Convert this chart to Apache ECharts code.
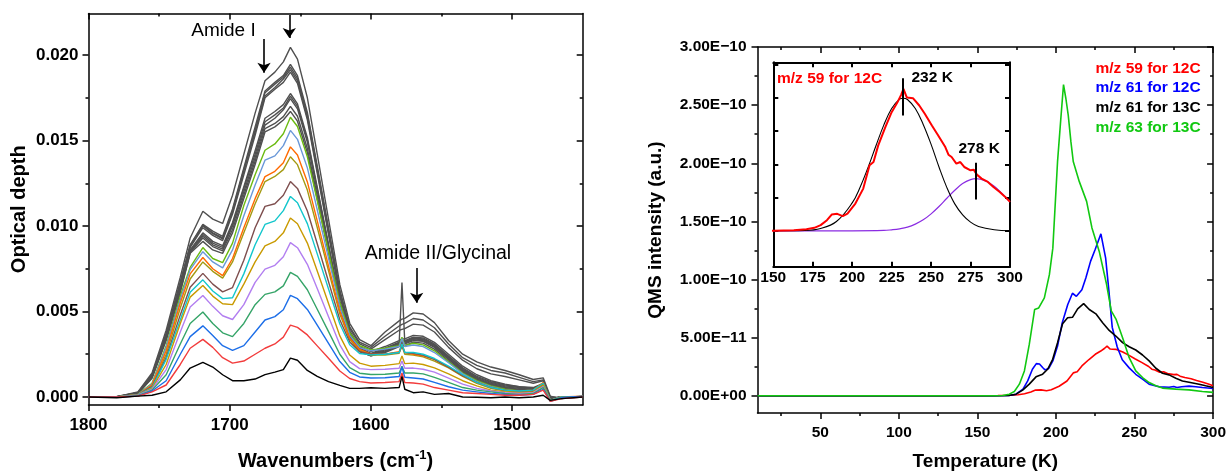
<!DOCTYPE html>
<html>
<head>
<meta charset="utf-8">
<script src="https://cdn.jsdelivr.net/npm/echarts@6/dist/echarts.min.js"></script>
<style>
  html, body { margin: 0; padding: 0; background: #ffffff; }
  #chart { width: 1229px; height: 476px; }
</style>
</head>
<body>
<div id="chart"></div>
<script>
// ---------- FTIR spectra (left panel): optical depth in units of 1e-3 ----------
const wavenumbers = [1800,1780,1765,1755,1745,1735,1728,1719,1712,1705,1698,1690,1682,1675,1668,1662,1657,1652,1645,1638,1630,1622,1615,1608,1600,1590,1580,1578,1576,1570,1563,1555,1545,1535,1525,1515,1505,1495,1485,1478,1473,1465,1450];

const odBlack  = [0,-0.05,0.05,0.1,0.3,1.0,1.69,2.02,1.75,1.3,0.95,0.95,1.05,1.31,1.45,1.6,2.27, 2.15,1.55,1.2,0.9,0.68,0.5,0.5, 0.54,0.5,0.55,1.2,0.45,0.25,0.3,0.15,0.2,0.0,-0.02,-0.05,0.0,-0.05,0.0,0.1,-0.2,-0.1,0.0];
const odRed    = [0,0,0.05,0.3,0.7,1.9,2.85,3.37,2.9,2.3,1.98,2.1,2.5,2.85,3.1,3.5,4.2, 4.07,3.63,2.99,2.26,1.52,1.08,0.9, 0.82,0.85,0.9,1.4,0.85,0.82,0.75,0.55,0.4,0.25,0.2,0.15,0.1,0.1,0.15,0.4,-0.25,-0.1,0.0];
const odBlue   = [0,0,0.05,0.35,0.95,2.5,3.53,4.16,3.6,3.0,2.72,3.0,3.8,4.5,4.7,5.1,5.94, 5.75,5.12,4.2,3.13,2.07,1.44,1.17, 1.11,1.12,1.2,1.75,1.15,1.11,1.05,0.85,0.6,0.4,0.3,0.2,0.15,0.1,0.15,0.45,-0.25,-0.05,0.05];
const odGreen  = [0,0,0.08,0.4,1.3,3.1,4.3,4.97,4.3,3.75,3.53,4.3,5.4,6.0,6.15,6.5,7.29, 7.05,6.27,5.13,3.82,2.5,1.72,1.39, 1.31,1.33,1.4,1.8,1.4,1.4,1.35,1.15,0.85,0.55,0.4,0.3,0.2,0.15,0.2,0.55,-0.2,0.0,0.0];
const odPurple = [0,0,0.1,0.45,1.6,3.8,5.26,5.94,5.3,4.75,4.53,5.4,6.7,7.48,7.7,8.2,9.03, 8.73,7.76,6.34,4.69,3.05,2.07,1.66, 1.6,1.62,1.68,2.1,1.68,1.69,1.62,1.45,1.1,0.75,0.5,0.35,0.25,0.2,0.25,0.6,-0.2,0.0,0.0];
const odGold   = [0,0,0.1,0.5,1.9,4.3,5.84,6.52,5.9,5.45,5.4,6.6,7.9,8.84,9.1,9.6,10.47, 10.13,9.0,7.37,5.47,3.57,2.45,1.98, 1.8,1.85,1.95,2.4,1.95,1.98,1.9,1.7,1.35,0.95,0.65,0.4,0.3,0.25,0.3,0.7,-0.2,0.0,0.0];
const odCyan   = [0,0,0.12,0.55,2.2,4.5,6.13,6.85,6.2,5.75,5.8,7.2,8.9,10.09,10.3,10.9,11.73, 11.36,10.14,8.37,6.32,4.27,3.05,2.54, 2.46,2.5,2.6,3.1,2.6,2.6,2.5,2.25,1.8,1.3,0.85,0.55,0.4,0.35,0.4,0.8,-0.2,0.0,0.0];
const odBrown  = [0,0,0.12,0.6,2.3,4.8,6.42,7.23,6.6,6.15,6.4,8.0,9.9,11.15,11.3,11.8,12.6, 12.2,10.88,8.96,6.74,4.52,3.21,2.65, 2.5,2.5,2.6,3.0,2.6,2.55,2.45,2.2,1.75,1.25,0.85,0.55,0.4,0.35,0.35,0.75,-0.2,0.0,0.0];
const odOlive  = [0,0,0.13,0.65,2.5,5.2,6.9,7.9,7.35,6.95,7.9,9.6,11.3,12.6,12.9,13.3,14.05, 13.59,12.1,9.91,7.38,4.85,3.36,2.72, 2.45,2.45,2.55,3.0,2.5,2.45,2.35,2.1,1.7,1.2,0.8,0.5,0.35,0.3,0.35,0.8,-0.25,0.0,0.0];
const odOrange = [0,0,0.13,0.7,2.7,5.5,7.2,8.16,7.5,7.1,8.1,9.9,11.6,12.89,13.2,13.7,14.63, 14.15,12.58,10.3,7.65,5.01,3.44,2.78, 2.5,2.5,2.65,3.1,2.6,2.5,2.4,2.2,1.75,1.25,0.85,0.55,0.4,0.35,0.4,0.85,-0.2,0.0,0.05];
const odSky    = [0,0,0.14,0.75,2.9,5.7,7.45,8.5,7.9,7.55,8.6,10.6,12.4,13.85,14.1,14.7,15.59, 15.07,13.4,10.95,8.11,5.28,3.6,2.89, 2.7,2.8,2.95,3.4,2.95,3.04,2.95,2.6,2.0,1.35,0.9,0.6,0.4,0.35,0.35,0.75,-0.2,0.0,0.0];
const odLime   = [0,0,0.15,0.8,3.0,5.9,7.58,8.74,8.1,7.86,9.0,11.2,13.0,14.43,14.8,15.4,16.36, 15.82,14.05,11.48,8.5,5.51,3.75,3.0, 2.75,2.85,3.0,3.5,3.0,3.14,3.05,2.7,2.05,1.4,0.95,0.65,0.45,0.35,0.35,0.75,-0.2,-0.05,0.05];

const odGray01 = [0,0,0.2,1.1,3.3,6.1,8.4,9.1,8.6,8.4,9.6,11.6,13.6,15.5,15.8,16.2,16.7, 16.13,14.28,11.57,8.44,5.3,3.45,2.66, 2.4,2.6,2.95,3.0,3.0,3.2,3.15,2.8,2.1,1.45,0.95,0.65,0.45,0.4,0.4,0.65,-0.15,0.0,0.0];
const odGray02 = [0,0,0.2,1.15,3.4,6.2,8.45,9.3,8.8,8.55,9.8,11.8,13.8,15.7,16.0,16.4,17.0, 16.42,14.53,11.76,8.56,5.36,3.47,2.67, 2.4,2.65,3.0,3.1,3.1,3.3,3.25,2.9,2.2,1.5,1.0,0.7,0.5,0.4,0.4,0.65,-0.15,0.0,0.0];
const odGray03 = [0,0,0.2,1.15,3.4,6.3,8.5,9.4,8.9,8.65,10.0,12.0,14.0,15.9,16.3,16.8,17.45, 16.85,14.91,12.07,8.78,5.49,3.55,2.72, 2.45,2.7,3.05,3.15,3.15,3.35,3.3,2.95,2.25,1.55,1.05,0.75,0.55,0.45,0.45,0.7,-0.1,0.0,0.0];
const odGray04 = [0,0.02,0.22,1.2,3.5,6.4,8.55,9.5,9.0,8.75,10.1,12.2,14.2,16.1,16.5,16.9,17.6, 17.0,15.03,12.16,8.84,5.52,3.56,2.73, 2.45,2.75,3.1,6.7,3.2,3.4,3.35,3.0,2.3,1.6,1.1,0.8,0.6,0.5,0.45,0.7,-0.1,0.0,0.0];
const odGray05 = [0,0,0.22,1.2,3.5,6.4,8.6,9.6,9.1,8.85,10.2,12.3,14.4,16.3,16.7,17.1,17.75, 17.14,15.17,12.28,8.93,5.59,3.61,2.78, 2.5,2.8,3.15,3.2,3.25,3.45,3.4,3.05,2.35,1.65,1.15,0.85,0.65,0.55,0.5,0.75,-0.1,0.0,0.0];
const odGray06 = [0,0,0.25,1.25,3.6,6.6,8.75,9.9,9.45,9.15,10.7,13.0,15.3,17.5,18.0,18.4,19.0, 18.34,16.21,13.1,9.49,5.88,3.75,2.85, 2.55,2.85,3.2,3.3,3.3,3.5,3.45,3.1,2.4,1.7,1.2,0.9,0.7,0.6,0.5,0.75,-0.1,-0.05,0.0];
const odGray07 = [0,0.03,0.25,1.3,3.6,6.6,8.8,10.0,9.55,9.25,10.8,13.2,15.5,17.6,18.1,18.6,19.15, 18.49,16.35,13.23,9.61,5.99,3.85,2.95, 2.65,2.95,3.3,3.4,3.4,3.6,3.55,3.2,2.5,1.8,1.3,0.95,0.75,0.6,0.55,0.8,-0.1,0.0,0.0];
const odGray08 = [0,0,0.25,1.3,3.7,6.7,8.85,10.05,9.6,9.3,10.9,13.3,15.6,17.8,18.3,18.7,19.3, 18.64,16.5,13.38,9.76,6.14,4.0,3.1, 2.8,3.35,3.9,3.95,4.0,4.26,4.2,3.8,2.9,2.15,1.65,1.35,1.2,1.0,0.8,0.95,0.0,-0.05,0.0];
const odGray09 = [0,0,0.25,1.3,3.7,6.7,8.9,10.1,9.7,9.4,11.0,13.4,15.8,17.9,18.4,18.8,19.45, 18.79,16.65,13.51,9.88,6.25,4.1,3.2, 2.9,3.55,4.15,4.25,4.3,4.59,4.5,4.05,3.1,2.3,1.85,1.55,1.4,1.15,0.9,1.0,0.0,-0.1,0.05];
const odGray10 = [0,0.02,0.3,1.4,3.9,7.0,9.3,10.86,10.4,10.15,11.8,14.2,16.6,18.5,19.0,19.6,20.45, 19.76,17.5,14.2,10.39,6.57,4.31,3.36, 3.0,3.8,4.45,4.55,4.6,4.92,4.85,4.35,3.3,2.5,2.05,1.75,1.55,1.3,1.02,1.12,0.05,-0.1,0.0];

const odTicks = [0, 0.005, 0.010, 0.015, 0.020];
const odMinorTicks = [0.0025, 0.0075, 0.0125, 0.0175];
const wnTicks = [1800, 1700, 1600, 1500];
const wnMinorTicks = [1750, 1650, 1550];

// band markers: [wavenumber, arrow start, arrow end] (optical depth x 1e-3)
const bandArrows = [[1675.7, 20.94, 18.97], [1657.8, 22.34, 20.99], [1567.6, 7.54, 5.51]];

// ---------- TPD traces (right panel): [T (K), QMS intensity in units of 1e-11] ----------
const qms59_12C = [[10,0],[150,0],[163,0.02],[171,0.05],[176,0.09],[180,0.17],[184,0.32],[187,0.49],[190.5,0.51],[194,0.44],[197,0.52],[202,0.82],[207,1.27],[211,1.97],[213.5,2.07],[216.5,2.57],[221,3.12],[225,3.57],[228.5,3.85],[231,4.09],[232.5,4.27],[234.5,4.02],[236,4.0],[238.5,3.99],[242.5,3.77],[246,3.52],[250.5,3.17],[254.5,2.87],[259,2.52],[261,2.29],[263,2.22],[266,2.02],[268.5,2.07],[271,1.92],[275,1.82],[277,1.84],[279,1.69],[282,1.57],[286,1.47],[289.5,1.32],[293.5,1.17],[297,1.02],[300,0.87]];
const qms61_12C = [[10,0],[160,0],[170,0.02],[174.5,0.14],[179,0.57],[182,1.28],[185,2.28],[187.5,2.77],[189.5,2.74],[191.5,2.43],[193,2.23],[195.5,2.37],[198,3.0],[201,4.28],[204,6.28],[207.5,7.85],[210.5,8.82],[213,8.56],[216.5,9.13],[219,10.13],[222,11.56],[225,12.6],[228.6,13.93],[229.8,13.85],[231.6,11.87],[233.7,9.0],[235.8,5.9],[239,4.2],[242.2,3.1],[246.6,2.4],[250.8,1.85],[255.1,1.43],[259.3,1.0],[265.7,0.77],[272,0.74],[275,0.8],[277,0.72],[280,0.78],[284.7,0.83],[289,0.78],[293.2,0.71],[300,0.63]];
const qms61_13C = [[10,0],[160,0],[170,0.02],[174.6,0.14],[178.8,0.49],[183,1.0],[187.3,1.63],[191.5,1.86],[194.7,2.28],[197.9,3.14],[201,4.57],[204.2,6.19],[207.4,6.71],[210.6,6.76],[213.8,7.48],[217.6,7.93],[221.2,7.42],[225.4,7.05],[229.7,6.28],[233.9,5.62],[238.1,5.14],[242.4,4.57],[246.6,4.22],[250.8,3.94],[255.1,3.51],[259.3,3.0],[263.6,2.37],[267.8,1.94],[272,1.8],[276.3,1.51],[280.5,1.28],[284.7,1.17],[291.1,1.0],[295.3,0.86],[300,0.71]];
const qms63_13C = [[10,0],[160,0],[166,0.02],[170.3,0.14],[173.5,0.37],[176.7,1.0],[179.9,2.14],[183,4.42],[186.4,7.42],[189,7.56],[192.6,8.42],[195.8,10.42],[198,12.7],[201,20.15],[203.1,23.86],[204.8,26.77],[206.3,25.57],[207.8,24.14],[209.5,21.86],[211,20.15],[214.8,18.44],[219.5,16.72],[222.9,14.44],[227.5,12.44],[232.2,9.59],[235.2,7.3],[238.2,6.6],[242.4,5.0],[246.6,3.28],[250.8,2.14],[255.1,1.57],[259.3,1.14],[263.6,0.86],[267.8,0.66],[276.3,0.57],[284.7,0.51],[293.2,0.37],[300,0.29]];

// two-component peak fit of m/z 59 (inset), units of 1e-11
const fitLow  = [[150,0],[170,0.01],[180,0.07],[190,0.28],[200,0.84],[205,1.31],[210,1.9],[215,2.55],[220,3.18],[225,3.68],[230,3.96],[232.3,3.99],[235,3.95],[240,3.68],[245,3.2],[250,2.6],[255,1.92],[260,1.3],[265,0.81],[270,0.48],[275,0.26],[280,0.13],[290,0.03],[300,0]];
const fitHigh = [[150,0],[200,0],[220,0.01],[225,0.03],[230,0.06],[235,0.11],[240,0.2],[245,0.33],[250,0.51],[255,0.73],[260,0.98],[265,1.22],[270,1.42],[275,1.54],[278.5,1.57],[285,1.49],[290,1.34],[295,1.12],[300,0.87]];
const peakTemps = [232, 278];

const tempTicks = [50, 100, 150, 200, 250, 300];
const tempMinorTicks = [25, 75, 125, 175, 225, 275];
const qmsTicks = [0, 5e-11, 1.0e-10, 1.5e-10, 2.0e-10, 2.5e-10, 3.0e-10];
const qmsMinorTicks = [2.5e-11, 7.5e-11, 1.25e-10, 1.75e-10, 2.25e-10, 2.75e-10];
const insetTempTicks = [150, 175, 200, 225, 250, 275, 300];
const insetQmsTicks = [0, 1e-11, 2e-11, 3e-11, 4e-11, 5e-11];

const qmsLegend = [
  ['m/z 59 for 12C', '#ff0000'],
  ['m/z 61 for 12C', '#0000ff'],
  ['m/z 61 for 13C', '#000000'],
  ['m/z 63 for 13C', '#11c811']
];

// ---------- helpers ----------
const FONT = '"Liberation Sans", Arial, Helvetica, sans-serif';
const AXIS_LINE = { color: '#000', width: 1.5 };

function sci(v) {
  if (v === 0) return '0.00E+00';
  const [m, e] = v.toExponential(2).split('e');
  const n = parseInt(e, 10);
  return m + 'E' + (n < 0 ? '\u2212' : '+') + String(Math.abs(n)).padStart(2, '0');
}
const plain = v => String(v);

// one axis of a boxed frame: main side draws the line, ticks and labels,
// an extra overlay on the same side draws the short minor ticks
function axis(dim, grid, side, min, max, ticks, opt) {
  opt = opt || {};
  const a = {
    type: 'value', gridIndex: grid, position: side, min: min, max: max,
    inverse: !!opt.inverse, silent: true, splitLine: { show: false },
    axisLine: { show: !!opt.line, onZero: false, lineStyle: opt.lineStyle || AXIS_LINE },
    axisTick: { show: ticks.length > 0, customValues: ticks, inside: !!opt.inside,
                length: opt.len || 6, lineStyle: opt.lineStyle || AXIS_LINE },
    axisLabel: opt.label ? Object.assign({ show: true, customValues: ticks, color: '#000',
                fontFamily: FONT, fontWeight: 'bold', formatter: plain }, opt.label) : { show: false },
    axisPointer: { show: false }
  };
  if (opt.name) {
    a.name = opt.name;
    a.nameLocation = 'middle';
    a.nameGap = opt.nameGap;
    a.nameTextStyle = Object.assign({ color: '#000', fontFamily: FONT, fontWeight: 'bold' }, opt.nameStyle);
  }
  return a;
}

const xAxes = [], yAxes = [];
// left panel (grid 0)
const WN = [1450, 1800], OD = [-0.00047, 0.02243];
xAxes.push(axis('x', 0, 'bottom', WN[0], WN[1], wnTicks, { inverse: true, line: true,
  label: { fontSize: 17, margin: 12 },
  name: '{t|Wavenumbers (cm}{s|-1}{t|)}', nameGap: 44,
  nameStyle: { rich: {
    t: { fontSize: 20, fontWeight: 'bold', fontFamily: FONT, color: '#000', lineHeight: 24 },
    s: { fontSize: 13, fontWeight: 'bold', fontFamily: FONT, color: '#000', verticalAlign: 'top', lineHeight: 14 }
  } } }));
xAxes.push(axis('x', 0, 'bottom', WN[0], WN[1], wnMinorTicks, { inverse: true, len: 3 }));
xAxes.push(axis('x', 0, 'top', WN[0], WN[1], wnTicks, { inverse: true, line: true, inside: true }));
xAxes.push(axis('x', 0, 'top', WN[0], WN[1], wnMinorTicks, { inverse: true, inside: true, len: 3 }));
yAxes.push(axis('y', 0, 'left', OD[0], OD[1], odTicks, { line: true,
  label: { fontSize: 17, margin: 10, formatter: v => v.toFixed(3) },
  name: 'Optical depth', nameGap: 59, nameStyle: { fontSize: 20 } }));
yAxes.push(axis('y', 0, 'left', OD[0], OD[1], odMinorTicks, { len: 3 }));
yAxes.push(axis('y', 0, 'right', OD[0], OD[1], odTicks, { line: true, inside: true }));
yAxes.push(axis('y', 0, 'right', OD[0], OD[1], odMinorTicks, { inside: true, len: 3 }));

// right panel (grid 1)
const TK = [10, 300], QMS = [-1.48e-11, 3.0e-10];
xAxes.push(axis('x', 1, 'bottom', TK[0], TK[1], tempTicks, { line: true,
  label: { fontSize: 15.5, margin: 12 },
  name: 'Temperature (K)', nameGap: 39, nameStyle: { fontSize: 19 } }));
xAxes.push(axis('x', 1, 'bottom', TK[0], TK[1], tempMinorTicks, { len: 3 }));
xAxes.push(axis('x', 1, 'top', TK[0], TK[1], tempTicks, { line: true, inside: true }));
xAxes.push(axis('x', 1, 'top', TK[0], TK[1], tempMinorTicks, { inside: true, len: 3 }));
yAxes.push(axis('y', 1, 'left', QMS[0], QMS[1], qmsTicks, { line: true,
  label: { fontSize: 15.5, margin: 11, formatter: sci },
  name: 'QMS intensity (a.u.)', nameGap: 92, nameStyle: { fontSize: 19 } }));
yAxes.push(axis('y', 1, 'left', QMS[0], QMS[1], qmsMinorTicks, { len: 3 }));
yAxes.push(axis('y', 1, 'right', QMS[0], QMS[1], qmsTicks, { line: true, inside: true }));
yAxes.push(axis('y', 1, 'right', QMS[0], QMS[1], qmsMinorTicks, { inside: true, len: 3 }));

// inset (grid 2)
const INSET_LINE = { color: '#000', width: 2 };
const ITK = [150, 300], IQ = [-1.08e-11, 5.07e-11];
xAxes.push(axis('x', 2, 'bottom', ITK[0], ITK[1], insetTempTicks, { line: true, inside: true, len: 5,
  lineStyle: INSET_LINE, label: { fontSize: 15.5, margin: 3 } }));
xAxes.push(axis('x', 2, 'top', ITK[0], ITK[1], insetTempTicks, { line: true, inside: true, len: 5, lineStyle: INSET_LINE }));
yAxes.push(axis('y', 2, 'left', IQ[0], IQ[1], insetQmsTicks, { line: true, inside: true, len: 5, lineStyle: INSET_LINE }));
yAxes.push(axis('y', 2, 'right', IQ[0], IQ[1], insetQmsTicks, { line: true, inside: true, len: 5, lineStyle: INSET_LINE }));

// ---------- series ----------
const series = [];
const spectra = [
  [odGray01, '#505050'], [odGray02, '#505050'], [odGray03, '#505050'], [odGray04, '#505050'],
  [odGray05, '#505050'], [odGray06, '#505050'], [odGray07, '#505050'], [odGray08, '#505050'],
  [odGray09, '#505050'], [odGray10, '#505050'],
  [odLime, '#6cbb12'], [odSky, '#6a98d8'], [odOlive, '#a49a12'], [odOrange, '#ff6a00'],
  [odBrown, '#7e4e4e'], [odCyan, '#12c6cc'], [odGold, '#c99a00'], [odPurple, '#b27ef0'],
  [odGreen, '#35a468'], [odBlue, '#1c6ee8'], [odRed, '#f23c3c'], [odBlack, '#000000']
];
spectra.forEach(([od, color]) => {
  series.push({
    type: 'line', xAxisIndex: 0, yAxisIndex: 0, symbol: 'none', silent: true,
    lineStyle: { color: color, width: 1.4 },
    data: wavenumbers.map((w, i) => [w, od[i] / 1000])
  });
});
// band arrows
series.push({
  type: 'line', xAxisIndex: 0, yAxisIndex: 0, data: [], silent: true,
  markLine: {
    silent: true, symbol: ['none', 'arrow'], symbolSize: 10, animation: false,
    label: { show: false },
    lineStyle: { color: '#000', width: 1.6, type: 'solid' },
    emphasis: { disabled: true },
    data: bandArrows.map(([w, y0, y1]) => [{ coord: [w, y0 / 1000] }, { coord: [w, y1 / 1000] }])
  }
});

const toQms = arr => arr.map(([t, v]) => [t, v * 1e-11]);
const tpd = [[qms59_12C, '#ff0000'], [qms61_12C, '#0000ff'], [qms61_13C, '#000000'], [qms63_13C, '#11c811']];
tpd.forEach(([arr, color]) => {
  series.push({
    type: 'line', xAxisIndex: 4, yAxisIndex: 4, symbol: 'none', silent: true,
    lineStyle: { color: color, width: 1.6 }, data: toQms(arr)
  });
});

// inset: m/z 59 with its two fitted components
series.push({
  type: 'line', xAxisIndex: 8, yAxisIndex: 8, symbol: 'none', silent: true, smooth: 0.4,
  lineStyle: { color: '#8a2be2', width: 1.2 }, data: toQms(fitHigh)
});
series.push({
  type: 'line', xAxisIndex: 8, yAxisIndex: 8, symbol: 'none', silent: true, smooth: 0.4,
  lineStyle: { color: '#000000', width: 1.1 }, data: toQms(fitLow)
});
series.push({
  type: 'line', xAxisIndex: 8, yAxisIndex: 8, symbol: 'none', silent: true,
  lineStyle: { color: '#ff0000', width: 2 }, data: toQms(qms59_12C),
  markLine: {
    silent: true, symbol: ['none', 'none'], animation: false, label: { show: false },
    lineStyle: { color: '#000', width: 2, type: 'solid' }, emphasis: { disabled: true },
    data: [
      [{ coord: [peakTemps[0], 3.47e-11] }, { coord: [peakTemps[0], 4.59e-11] }],
      [{ coord: [peakTemps[1], 0.94e-11] }, { coord: [peakTemps[1], 2.05e-11] }]
    ]
  }
});

// ---------- text annotations ----------
const txt = (text, x, y, size, opts) => Object.assign({
  type: 'text', x: x, y: y, z: 100, silent: true,
  style: Object.assign({ text: text, fill: '#000', font: size + 'px ' + FONT,
                         align: 'left', verticalAlign: 'middle' }, opts || {})
});
const graphics = [
  txt('Amide I', 223.5, 31, 19, { align: 'center' }),
  txt('Amide II/Glycinal', 438, 254, 19.5, { align: 'center' }),
  txt('m/z 59 for 12C', 777, 78.5, 15.5, { fill: '#ff0000', font: 'bold 15.5px ' + FONT }),
  txt(peakTemps[0] + ' K', 911.5, 78, 15.5, { font: 'bold 15.5px ' + FONT }),
  txt(peakTemps[1] + ' K', 958.5, 148.5, 15.5, { font: 'bold 15.5px ' + FONT })
];
qmsLegend.forEach(([label, color], i) => {
  graphics.push(txt(label, 1095.5, 68.5 + i * 19.7, 15.5, { fill: color, font: 'bold 15.5px ' + FONT }));
});

const chart = echarts.init(document.getElementById('chart'), null, { renderer: 'canvas', width: 1229, height: 476 });
chart.setOption({
  animation: false,
  backgroundColor: '#ffffff',
  grid: [
    { left: 88.5, top: 13.5, width: 494.2, height: 395.5 },
    { left: 757.5, top: 47, width: 456.5, height: 369 },
    { left: 773.3, top: 62.3, width: 236.7, height: 204.4 }
  ],
  xAxis: xAxes,
  yAxis: yAxes,
  series: series,
  graphic: graphics
});
</script>
</body>
</html>
